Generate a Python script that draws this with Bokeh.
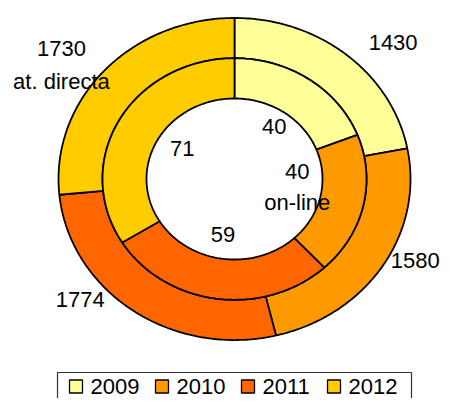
import numpy as np
from bokeh.plotting import figure
from bokeh.models import Range1d
from bokeh.core.properties import value
from bokeh.embed import file_html
from bokeh.resources import INLINE

# ---------------- data ----------------
years = ["2009", "2010", "2011", "2012"]
colors = ["#FFFF99", "#FF9900", "#FF6600", "#FFCC00"]
at_directa = [1430, 1580, 1774, 1730]   # outer ring
on_line = [40, 40, 59, 71]              # inner ring
series_names = ["at. directa", "on-line"]

# ---------------- layout / style ----------------
W, H = 441, 398
CX, CY = 234, 178.5        # ring centre in canvas pixels
RY = 0.915                 # vertical squash of the rings
R_OUT, R_MID, R_IN = 176, 132, 88
FONT = value("Liberation Sans")
FS = "22px"
OUT_LABEL_K = 1.22
IN_LABEL_K = 0.72
OUT_NUDGE = [(22, -15), (0, 25), (-30, 40), (-14, -18)]
IN_NUDGE = [(4, 5), (1, 5), (-3, 2), (3, 2)]
OUT_NAME_AT = 3
IN_NAME_AT = 1

p = figure(width=W, height=H, output_backend="svg", toolbar_location=None,
           x_axis_location=None, y_axis_location=None, min_border=0,
           x_range=Range1d(-CX, W - CX),
           y_range=Range1d(CY - H, CY))
p.grid.visible = False
p.outline_line_color = None
p.background_fill_color = "white"
p.border_fill_color = "white"


def ring(values, r_in, r_out):
    vals = np.asarray(values, dtype=float)
    frac = vals / vals.sum()
    ends = np.cumsum(frac)
    starts = ends - frac
    xs, ys = [], []
    for s, e in zip(starts, ends):
        n = max(int(400 * (e - s)), 4)
        t = np.linspace(np.pi / 2 - 2 * np.pi * s, np.pi / 2 - 2 * np.pi * e, n)
        xo, yo = r_out * np.cos(t), r_out * RY * np.sin(t)
        tr = t[::-1]
        xi, yi = r_in * np.cos(tr), r_in * RY * np.sin(tr)
        xs.append(np.concatenate([xo, xi]).tolist())
        ys.append(np.concatenate([yo, yi]).tolist())
    mids = np.pi / 2 - 2 * np.pi * (starts + ends) / 2
    return xs, ys, mids


oxs, oys, omid = ring(at_directa, R_MID, R_OUT)
ixs, iys, imid = ring(on_line, R_IN, R_MID)

p.patches(xs=oxs, ys=oys, fill_color=colors, line_color="black", line_width=1.8)
p.patches(xs=ixs, ys=iys, fill_color=colors, line_color="black", line_width=1.8)

# outer labels
olx, oly, otx = [], [], []
for i, (v, a) in enumerate(zip(at_directa, omid)):
    olx.append(OUT_LABEL_K * R_OUT * np.cos(a) + OUT_NUDGE[i][0])
    oly.append(OUT_LABEL_K * R_OUT * RY * np.sin(a) + OUT_NUDGE[i][1])
    otx.append(str(v) + ("\n" + series_names[0] if i == OUT_NAME_AT else ""))
p.text(x=olx, y=oly, text=otx, text_font=FONT, text_font_size=FS,
       text_align="center", text_baseline="middle", text_color="black",
       text_line_height=1.3)

# inner labels
ilx, ily, itx = [], [], []
for i, (v, a) in enumerate(zip(on_line, imid)):
    ilx.append(IN_LABEL_K * R_IN * np.cos(a) + IN_NUDGE[i][0])
    ily.append(IN_LABEL_K * R_IN * RY * np.sin(a) + IN_NUDGE[i][1])
    itx.append(str(v) + ("\n" + series_names[1] if i == IN_NAME_AT else ""))
p.text(x=ilx, y=ily, text=itx, text_font=FONT, text_font_size=FS,
       text_align="center", text_baseline="middle", text_color="black",
       text_line_height=1.27)

# legend (drawn in pixel units)
LEG_LEFT, LEG_RIGHT, LEG_TOP = 57 - CX, 411 - CX, CY - 372
LEG_Y = CY - 386
SQ = 13
X0 = 69 - CX
PITCH = 86
p.quad(left=[LEG_LEFT], right=[LEG_RIGHT], top=[LEG_TOP], bottom=[LEG_TOP - 60],
       fill_color="white", line_color="#333333", line_width=1.2)
sq_x = [X0 + i * PITCH + SQ / 2 for i in range(len(years))]
p.rect(x=sq_x, y=[LEG_Y] * len(years), width=SQ, height=SQ,
       fill_color=colors, line_color="black", line_width=1.3)
p.text(x=[X0 + i * PITCH + SQ + 8 for i in range(len(years))], y=[LEG_Y] * len(years),
       text=years, text_font=FONT, text_font_size=FS, text_align="left",
       text_baseline="middle", text_color="black")

open("out.html", "w").write(file_html(p, INLINE))
